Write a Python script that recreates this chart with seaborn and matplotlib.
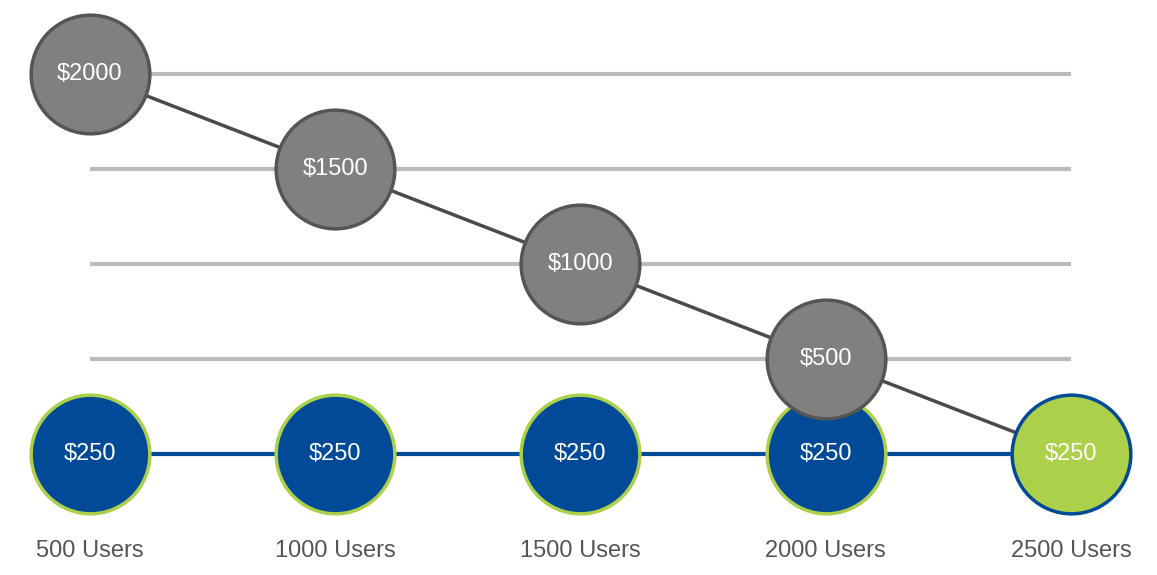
import numpy as np
import pandas as pd
import seaborn as sns
import matplotlib.pyplot as plt

sns.set_style("white")
plt.rcParams["font.family"] = ["Liberation Sans", "DejaVu Sans"]

users = ["500 Users", "1000 Users", "1500 Users", "2000 Users", "2500 Users"]
old_price = [2000, 1500, 1000, 500]
new_price = [250, 250, 250, 250, 250]
grid_levels = [2000, 1500, 1000, 500]

x = np.arange(len(users))
base_y = 0  # row of the new flat price

fig = plt.figure(figsize=(11.57, 5.75), dpi=100)
ax = fig.add_axes([0, 0, 1, 1])
ax.set_xlim(-0.367, 4.351)
ax.set_ylim(-637, 2389)
ax.axis("off")

for lv in grid_levels:
    ax.hlines(lv, 0, 4, color="#bcbcbe", lw=3, zorder=1)

blue = "#004a98"
green = "#acd04a"
gray = "#808080"
dark = "#555555"
S = 7300

new_df = pd.DataFrame({"x": x, "y": [base_y] * len(x), "label": new_price})
ax.plot(new_df["x"], new_df["y"], color=blue, lw=3, zorder=2)
sns.scatterplot(data=new_df.iloc[:-1], x="x", y="y", s=S, color=blue,
                edgecolor=green, linewidth=2.5, zorder=3, ax=ax, legend=False)

old_df = pd.DataFrame({"x": x[:len(old_price)], "y": old_price, "label": old_price})
line_x = list(old_df["x"]) + [x[-1]]
line_y = list(old_df["y"]) + [base_y]
ax.plot(line_x, line_y, color="#4a4a4a", lw=2.5, zorder=4)
sns.scatterplot(data=old_df, x="x", y="y", s=S, color=gray,
                edgecolor=dark, linewidth=2.5, zorder=5, ax=ax, legend=False)
sns.scatterplot(data=new_df.iloc[-1:], x="x", y="y", s=S, color=green,
                edgecolor=blue, linewidth=2.5, zorder=6, ax=ax, legend=False)

for _, r in old_df.iterrows():
    ax.text(r["x"], r["y"], f"${r['label']}", color="white", fontsize=17,
            ha="center", va="center", zorder=7)
for _, r in new_df.iterrows():
    ax.text(r["x"], r["y"], f"${r['label']}", color="white", fontsize=17,
            ha="center", va="center", zorder=7)

for xi, lab in zip(x, users):
    ax.text(xi, -510, lab, color="#555555", fontsize=17, ha="center", va="center")

ax.set_xlabel("")
ax.set_ylabel("")
fig.savefig("out.png", dpi=100)
